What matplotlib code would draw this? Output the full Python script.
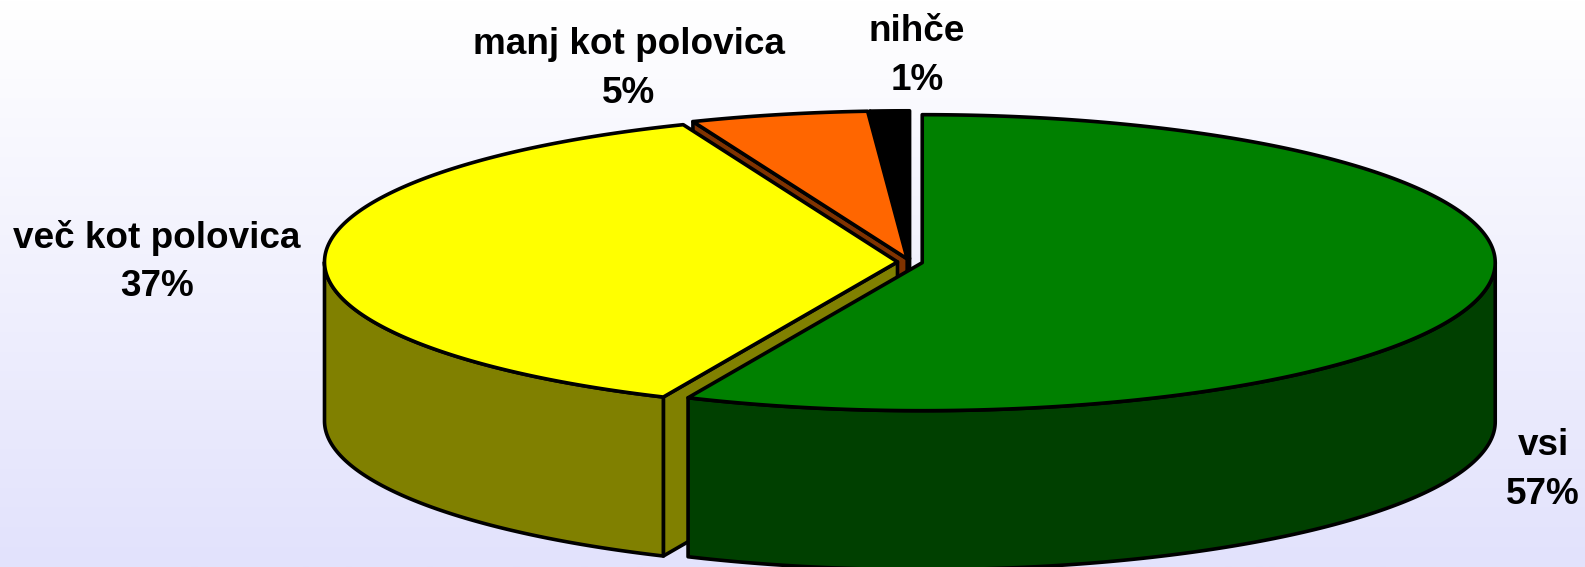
"""Exploded 3D pie drawn by hand, matplotlib has no real 3D pie."""

import numpy as np
import matplotlib
matplotlib.use("Agg")
import matplotlib.pyplot as plt
from matplotlib.colors import LinearSegmentedColormap
from matplotlib.patches import Polygon

plt.rcParams['font.family'] = ['Liberation Sans', 'DejaVu Sans']

labels = ['vsi', 'več kot polovica', 'manj kot polovica', 'nihče']
values = [56.7, 37.2, 5.0, 1.1]
top_colors = ['#008000', '#FFFF00', '#FF6600', '#000000']
side_colors = ['#004000', '#808000', '#803300', '#000000']

W, H = 1585, 567
CX, CY = 910, 262
RX, RY = 573, 148
DEPTH = 159
EXPLODE = 12.5
LW = 2.6

label_pos = {
    'vsi': (1543, 470),
    'več kot polovica': (157, 262),
    'manj kot polovica': (629, 69),
    'nihče': (917, 56),
}


def rim(center, t):
    # t in degrees, clockwise from 12 o'clock
    t = np.radians(t)
    return np.column_stack([center[0] + RX * np.sin(t), center[1] - RY * np.cos(t)])


def draw_poly(ax, pts, color, z):
    ax.add_patch(Polygon(pts, closed=True, facecolor=color, edgecolor='black',
                         linewidth=LW, joinstyle='round', zorder=z))


fig = plt.figure(figsize=(W / 100, H / 100), dpi=100)
ax = fig.add_axes([0, 0, 1, 1])
ax.set_xlim(0, W)
ax.set_ylim(H, 0)
ax.axis('off')

# background fades from white to pale lavender
cmap = LinearSegmentedColormap.from_list('bg', ['#FFFFFF', '#E2E2FC'])
ax.imshow(np.linspace(0, 1, 256).reshape(-1, 1), cmap=cmap, extent=[0, W, H, 0],
          aspect='auto', zorder=0)

edges = np.cumsum([0] + values) / sum(values) * 360
down = np.array([0, DEPTH])

for i in range(len(values)):
    start, end = edges[i], edges[i + 1]
    mid = np.radians((start + end) / 2)
    center = np.array([CX + EXPLODE * np.sin(mid), CY - EXPLODE * RY / RX * np.cos(mid)])
    z = 10 + (i == 1) * 10 + (i == 0) * 20 + (i == 2) * 5

    # cut face at the start of the slice, only when it looks at the viewer
    if 180 < start < 360:
        edge = rim(center, start)[0]
        draw_poly(ax, [center, edge, edge + down, center + down], side_colors[i], z)

    # outer wall, front half of the ellipse only
    w0, w1 = max(start, 90), min(end, 270)
    if w1 > w0:
        arc = rim(center, np.linspace(w0, w1, 200))
        draw_poly(ax, np.vstack([arc, arc[::-1] + down]), side_colors[i], z + 1)

    # top
    arc = rim(center, np.linspace(start, end, 300))
    draw_poly(ax, np.vstack([center, arc]), top_colors[i], z + 2)

    x, y = label_pos[labels[i]]
    ax.text(x, y, f"{labels[i]}\n{values[i]:.0f}%", ha='center', va='center',
            fontsize=26.6, fontweight='bold', color='black', linespacing=1.5, zorder=50)

fig.savefig('out.png', dpi=100)
